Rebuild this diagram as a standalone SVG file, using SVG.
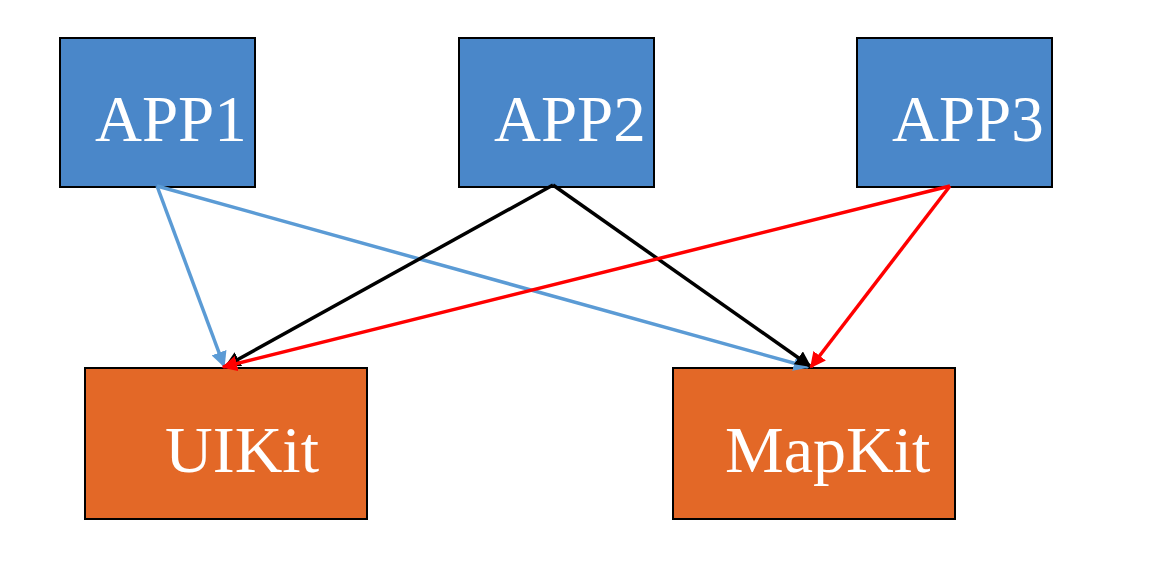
<svg xmlns="http://www.w3.org/2000/svg" width="1174" height="564" viewBox="0 0 1174 564">
<style>
.app{fill:#4a87c9;stroke:#000;stroke-width:2}
.lib{fill:#e36827;stroke:#000;stroke-width:2}
.t{font-family:"Liberation Serif",serif;fill:#fff}
.c{fill:none;stroke-width:3.5}
</style>
<defs>
<marker id="mb" viewBox="0 0 10 10" refX="9" refY="5" markerWidth="4.5" markerHeight="4.5" orient="auto" markerUnits="strokeWidth"><path d="M0,0L10,5L0,10z" fill="#5b9bd5"/></marker>
<marker id="mk" viewBox="0 0 10 10" refX="9" refY="5" markerWidth="4.5" markerHeight="4.5" orient="auto" markerUnits="strokeWidth"><path d="M0,0L10,5L0,10z" fill="#000"/></marker>
<marker id="mr" viewBox="0 0 10 10" refX="9" refY="5" markerWidth="4.5" markerHeight="4.5" orient="auto" markerUnits="strokeWidth"><path d="M0,0L10,5L0,10z" fill="#ff0000"/></marker>
</defs>
<rect width="1174" height="564" fill="#fff"/>
<g id="app1"><rect class="app" x="60" y="38" width="195" height="149"/><text class="t" x="95" y="141" font-size="65">APP1</text></g>
<g id="app2"><rect class="app" x="459" y="38" width="195" height="149"/><text class="t" x="494" y="141" font-size="65">APP2</text></g>
<g id="app3"><rect class="app" x="857" y="38" width="195" height="149"/><text class="t" x="892" y="141" font-size="65">APP3</text></g>
<g id="uikit"><rect class="lib" x="85" y="368" width="282" height="151"/><text class="t" x="165" y="472" font-size="66">UIKit</text></g>
<g id="mapkit"><rect class="lib" x="673" y="368" width="282" height="151"/><text class="t" x="725" y="472" font-size="66">MapKit</text></g>
<g id="connectors">
<line class="c" x1="157" y1="186" x2="224" y2="366" stroke="#5b9bd5" marker-end="url(#mb)"/>
<line class="c" x1="157" y1="186" x2="808" y2="367" stroke="#5b9bd5" marker-end="url(#mb)"/>
<line class="c" x1="553" y1="185" x2="226" y2="366" stroke="#000" marker-end="url(#mk)"/>
<line class="c" x1="553" y1="185" x2="810" y2="366" stroke="#000" marker-end="url(#mk)"/>
<line class="c" x1="950" y1="186" x2="223" y2="367" stroke="#ff0000" marker-end="url(#mr)"/>
<line class="c" x1="950" y1="186" x2="811" y2="367" stroke="#ff0000" marker-end="url(#mr)"/>
</g>
</svg>
